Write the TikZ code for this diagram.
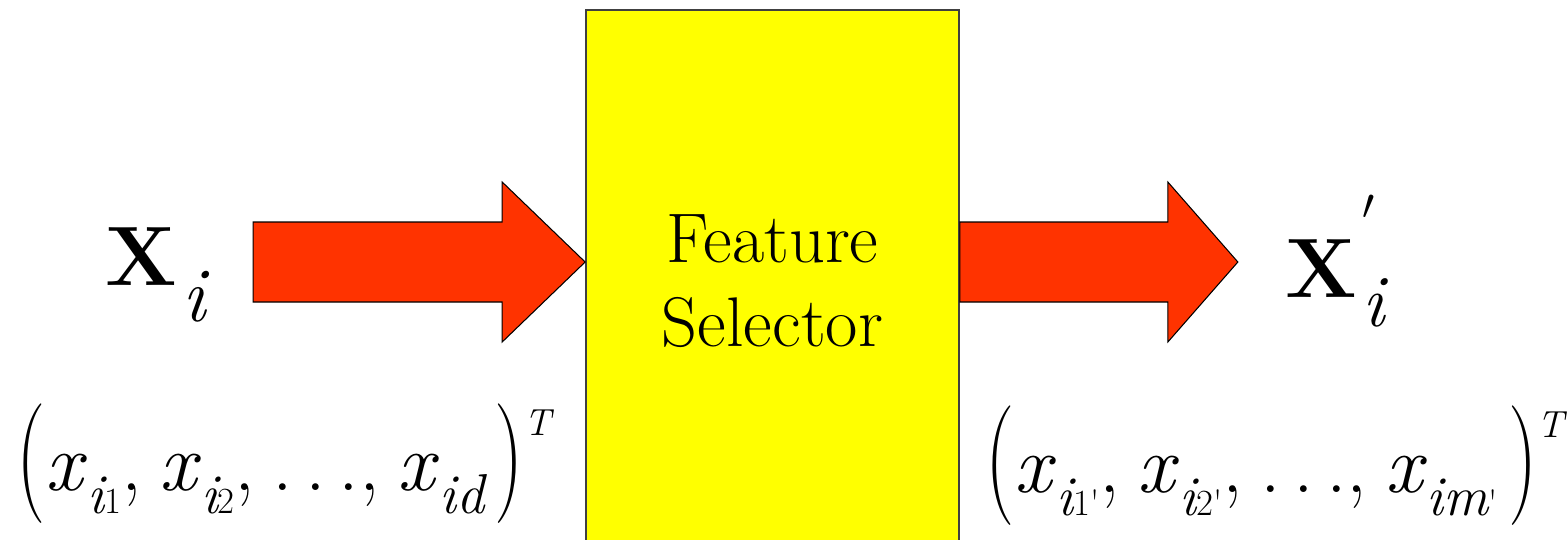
\documentclass[tikz,border=0pt]{standalone}
\usepackage{fontspec}
\usepackage{graphicx}
\usetikzlibrary{calc}
\definecolor{ArrowRed}{RGB}{255,51,0}
\definecolor{BoxYellow}{RGB}{255,255,0}
\newcommand\lowI[1]{\raisebox{-13.6pt}{\fontsize{32}{32}\selectfont\itshape #1}}
\newcommand\lowD[1]{\raisebox{-13.6pt}{\fontsize{21}{21}\selectfont #1}}
\newcommand\tallparen[1]{\raisebox{-2pt}{\scalebox{1}[1.45]{#1}}}
\newcommand\dotrow{.\hspace{7pt}.\hspace{7pt}.}
\newcommand\gap{\hspace{10pt}}
\newcommand\supT{\raisebox{31pt}{\fontsize{21.5}{21.5}\selectfont\itshape T}}

\begin{document}
\begin{tikzpicture}[x=0.02cm,y=-0.02cm,
  blockarrow/.style={fill=ArrowRed,draw=black,line width=0.6pt,line join=miter},
  selbox/.style={fill=BoxYellow,draw=black!75,line width=1pt,minimum width=7.46cm,
    minimum height=10.84cm,align=center,font=\fontsize{40}{48}\selectfont},
  vecname/.style={inner sep=0pt,anchor=base west,font=\fontsize{48}{48}\selectfont\bfseries},
  vecrow/.style={inner sep=0pt,anchor=base west,font=\fontsize{47}{47}\selectfont}]
  \useasboundingbox (0,0) rectangle (1568,539);
  \clip (0,0) rectangle (1568,539);
  \node[selbox] (sel) at (772.5,281) {Feature\\Selector};
  \coordinate (mid) at (0,262);
  \coordinate (tipL) at (sel.west |- mid);
  \coordinate (tailR) at (sel.east |- mid);
  \draw[blockarrow] (tipL) -- ++(-83,-80) -- ++(0,40) -- ++(-249,0) -- ++(0,80)
    -- ++(249,0) -- ++(0,40) -- cycle;
  \draw[blockarrow] ($(tailR)+(0,-40)$) -- ++(208,0) -- ++(0,-40) -- ++(70,80)
    -- ++(-70,80) -- ++(0,-40) -- ++(-208,0) -- cycle;
  \node[vecname] (xin) at (105,285)
    {X\hspace{3pt}\raisebox{-21pt}{\fontsize{44}{44}\selectfont\mdseries\itshape i}};
  \node[vecname] (xout) at (1285,297)
    {X\hspace{3pt}\rlap{\raisebox{44pt}{\fontsize{44}{44}\selectfont$\prime$}}%
     \raisebox{-17pt}{\fontsize{42}{42}\selectfont\mdseries\itshape i}};
  \node[vecrow] (rowin) at (16,490)
    {\tallparen{(}\textit{x}\lowI{i}\lowD{1},\gap\textit{x}\lowI{i}\lowD{2},\gap\dotrow,\gap
     \textit{x}\lowI{id}\hspace{6pt}\tallparen{)}\supT};
  \node[vecrow] (rowout) at (985,492)
    {\tallparen{(}\textit{x}\lowI{i}\lowD{1\textquotesingle},\gap\textit{x}\lowI{i}\lowD{2\textquotesingle},\gap
     \dotrow,\gap\textit{x}\lowI{im}\lowD{\textquotesingle}\hspace{6pt}\tallparen{)}\supT};
\end{tikzpicture}
\end{document}
